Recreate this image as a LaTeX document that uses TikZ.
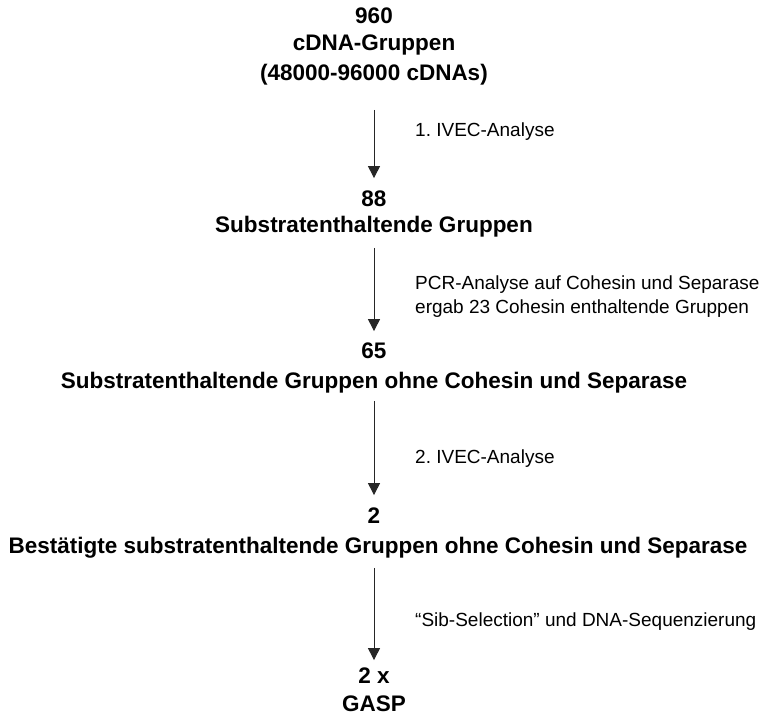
\documentclass[tikz,border=0pt]{standalone}
\usepackage{fontspec}
\setmainfont{Liberation Sans}
\frenchspacing
\usetikzlibrary{arrows.meta}
\begin{document}
\begin{tikzpicture}[x=1pt,y=-1pt,
  big/.style={font=\fontsize{22.5}{26}\selectfont\bfseries, inner sep=0pt, anchor=base},
  lab/.style={font=\fontsize{19}{22}\selectfont, inner sep=0pt, anchor=base west},
  arr/.style={draw=black!85, line width=1pt, -{Triangle[length=12pt,width=12pt]}}]
\useasboundingbox (0,0) rectangle (761,716);
\node[big] (a1) at (374,23) {960};
\node[big] (a2) at (374,50) {cDNA-Gruppen};
\node[big] (a3) at (374,80) {(48000-96000 cDNAs)};
\node[big] (b1) at (374,206) {88};
\node[big] (b2) at (374,232) {Substratenthaltende Gruppen};
\node[big] (c1) at (374,358) {65};
\node[big] (c2) at (374,388) {Substratenthaltende Gruppen ohne Cohesin und Separase};
\node[big] (d1) at (374,523) {2};
\node[big] (d2) at (378,553) {Bestätigte substratenthaltende Gruppen ohne Cohesin und Separase};
\node[big] (e1) at (374,683) {2 x};
\node[big] (e2) at (374,711) {GASP};
\node[lab] (l1) at (415,136) {1. IVEC-Analyse};
\node[lab] (l2) at (415,289) {PCR-Analyse auf Cohesin und Separase};
\node[lab] (l3) at (415,313) {ergab 23 Cohesin enthaltende Gruppen};
\node[lab] (l4) at (415,463) {2. IVEC-Analyse};
\node[lab] (l5) at (415,626) {“Sib-Selection” und DNA-Sequenzierung};
\draw[arr, shorten <=25pt, shorten >=12pt] (a3.south -| b1) -- (b1.north);
\draw[arr, shorten <=11pt, shorten >=11pt] (b2.south -| c1) -- (c1.north);
\draw[arr, shorten <=8pt, shorten >=12pt] (c2.south -| d1) -- (d1.north);
\draw[arr, shorten <=10pt, shorten >=7pt] (d2.south -| e1) -- (e1.north);
\end{tikzpicture}
\end{document}
